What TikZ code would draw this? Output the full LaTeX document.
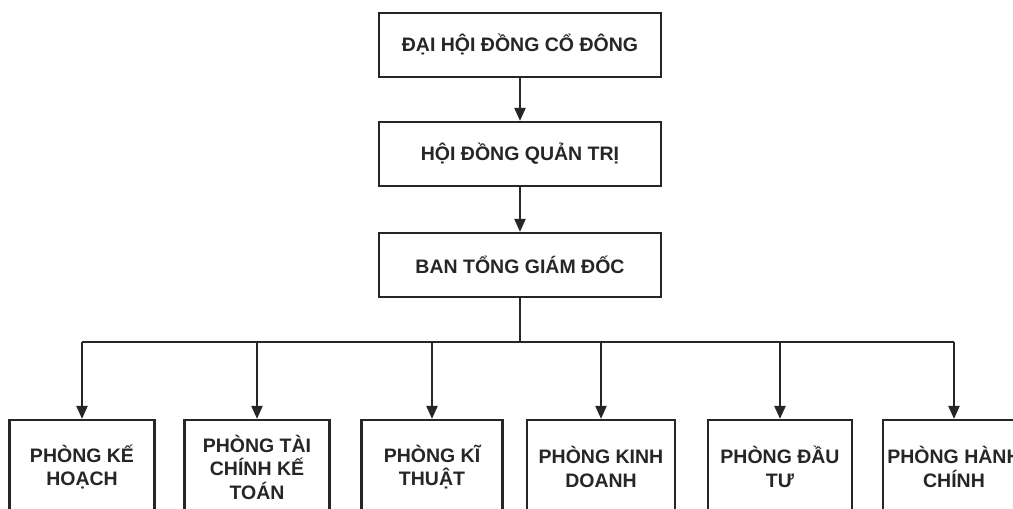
\documentclass[tikz,border=0pt]{standalone}
\usepackage{fontspec}
\setmainfont{Liberation Sans}
\usetikzlibrary{arrows.meta}
\tikzset{
  topbox/.style={draw=black!85, line width=2.2pt, minimum width=282pt, minimum height=64pt, inner sep=0pt, font=\fontsize{19.5}{23}\selectfont\bfseries, text=black!85},
  subbox/.style={draw=black!85, line width=2.2pt, minimum width=145pt, minimum height=94pt, inner sep=0pt, align=center, font=\fontsize{19.5}{23.5}\selectfont\bfseries, text=black!85},
  link/.style={draw=black!85, line width=2.2pt},
  arr/.style={link, -{Triangle[length=13pt,width=11pt]}}
}
\begin{document}
\begin{tikzpicture}[x=1pt,y=-1pt]
\useasboundingbox (0,0) rectangle (1013,509);
\clip (0,0) rectangle (1013,509);
\fill[white] (0,0) rectangle (1013,509);
\node[topbox] (a) at (520,45) {ĐẠI HỘI ĐỒNG CỔ ĐÔNG};
\node[topbox] (b) at (520,154) {HỘI ĐỒNG QUẢN TRỊ};
\node[topbox] (c) at (520,265) {BAN TỔNG GIÁM ĐỐC};
\node[subbox] (k1) at (82,467) {PHÒNG KẾ\\HOẠCH};
\node[subbox] (k2) at (257,467) {PHÒNG TÀI\\CHÍNH KẾ\\TOÁN};
\node[subbox, minimum width=141pt] (k3) at (432,467) {PHÒNG KĨ\\THUẬT};
\node[subbox, minimum width=148pt] (k4) at (601,467) {PHÒNG KINH\\DOANH};
\node[subbox, minimum width=144pt] (k5) at (780,467) {PHÒNG ĐẦU\\TƯ};
\node[subbox, minimum width=142pt] (k6) at (954,467) {PHÒNG HÀNH\\CHÍNH};
\draw[arr] (a) -- (b);
\draw[arr] (b) -- (c);
\coordinate (bus) at (520,342);
\coordinate (b1) at (k1.north |- bus);
\coordinate (b6) at (k6.north |- bus);
\draw[link] (c.south) -- (bus);
\draw[link] (b1) -- (b6);
\foreach \k in {k1,k2,k3,k4,k5,k6} {
  \draw[arr] (\k.north |- bus) -- (\k.north);
}
\end{tikzpicture}
\end{document}
